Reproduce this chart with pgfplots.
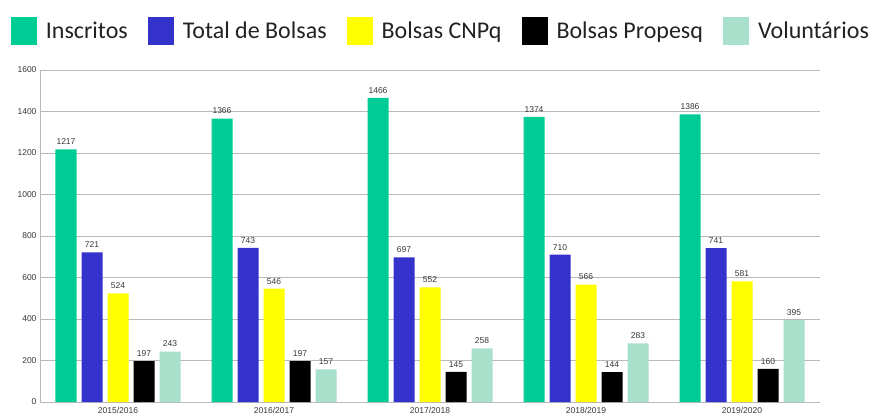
\documentclass[border=0pt]{standalone}
\usepackage{fontspec}
\setmainfont{Carlito}
\newfontfamily\arialfont{Liberation Sans}
\usepackage{pgfplots}
\pgfplotsset{compat=1.18}
\definecolor{cInsc}{RGB}{0,204,150}
\definecolor{cTot}{RGB}{51,51,204}
\definecolor{cCnpq}{RGB}{255,255,0}
\definecolor{cProp}{RGB}{0,0,0}
\definecolor{cVol}{RGB}{168,224,204}
\definecolor{tgray}{RGB}{55,55,55}
\definecolor{lgray}{RGB}{34,34,34}
\begin{document}
\begin{tikzpicture}[x=1pt,y=1pt]
\begin{axis}[
  at={(0,0)}, anchor=south west,
  scale only axis, width=780pt, height=332pt,
  ybar=5pt, bar width=21pt,
  xmin=-0.5, xmax=4.5, ymin=0, ymax=1600,
  xtick=data, xticklabels={2015/2016,2016/2017,2017/2018,2018/2019,2019/2020},
  ytick={0,200,...,1600},
  ymajorgrids, grid style={draw=gray!55, line width=0.8pt},
  axis x line*=bottom, axis y line*=left,
  axis line style={draw=gray!55, line width=0.8pt},
  x axis line style={-}, y axis line style={-},
  xtick style={draw=none}, ytick style={draw=gray!55, line width=0.8pt},
  major tick length=3pt,
  tick label style={font=\arialfont\fontsize{8.5}{10}\selectfont, text=tgray},
  /pgf/number format/assume math mode=true,
  /pgf/number format/set thousands separator={},
  xticklabel style={yshift=1pt},
  nodes near coords,
  every node near coord/.append style={font=\arialfont\fontsize{8.5}{10}\selectfont, text=tgray, yshift=1pt},
  legend columns=5,
  legend style={at={(0.514,1.117)}, anchor=center, draw=none, fill=none,
    font=\fontsize{24}{28}\selectfont, text=lgray,
    /tikz/every odd column/.append style={column sep=7pt},
    /tikz/every even column/.append style={column sep=18pt}},
  legend image code/.code={\fill[#1] (0pt,-14pt) rectangle (26pt,14pt);},
]
\addplot[fill=cInsc, draw=none] coordinates {(0,1217) (1,1366) (2,1466) (3,1374) (4,1386)};
\addplot[fill=cTot, draw=none] coordinates {(0,721) (1,743) (2,697) (3,710) (4,741)};
\addplot[fill=cCnpq, draw=none] coordinates {(0,524) (1,546) (2,552) (3,566) (4,581)};
\addplot[fill=cProp, draw=none] coordinates {(0,197) (1,197) (2,145) (3,144) (4,160)};
\addplot[fill=cVol, draw=none] coordinates {(0,243) (1,157) (2,258) (3,283) (4,395)};
\legend{Inscritos,Total de Bolsas,Bolsas CNPq,Bolsas Propesq,Voluntários}
\end{axis}
\pgfresetboundingbox
\path[use as bounding box] (-40pt,-16pt) rectangle (837pt,402pt);
\end{tikzpicture}
\end{document}
